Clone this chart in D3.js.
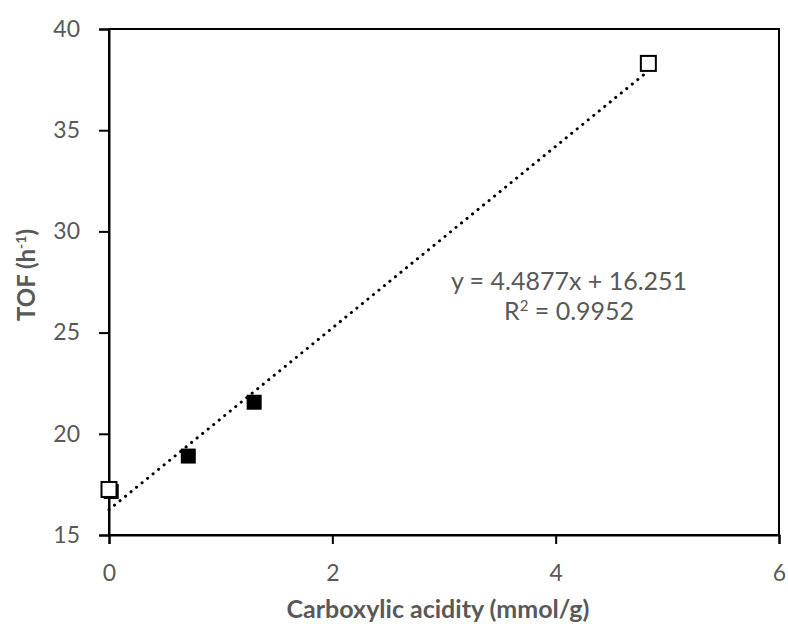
<!DOCTYPE html>
<html>
<head>
<meta charset="utf-8">
<script src="https://cdn.jsdelivr.net/npm/d3@7"></script>
<style>
  html, body { margin: 0; padding: 0; background: #fff; }
  svg { display: block; }
  text { font-family: Lato, "Open Sans", sans-serif; fill: #595959; }
</style>
</head>
<body>
<svg id="chart" width="788" height="624"></svg>
<script>
// Catalyst series: open markers (reference samples) and filled markers
const openX = [0, 4.83];
const openY = [17.25, 38.3];
const filledX = [0.02, 0.71, 1.30];
const filledY = [17.15, 18.9, 21.56];

// Linear fit reported on the chart
const slope = 4.4877;
const intercept = 16.251;
const rSquared = 0.9952;
const fitRange = [0, 4.83];

const xTicks = [0, 2, 4, 6];
const yTicks = [15, 20, 25, 30, 35, 40];

const svg = d3.select("#chart");
const plot = { left: 109, right: 779, top: 29, bottom: 535 };

const x = d3.scaleLinear().domain([0, 6]).range([plot.left, plot.right]);
const y = d3.scaleLinear().domain([15, 40]).range([plot.bottom, plot.top]);

// Frame
svg.append("rect")
  .attr("x", plot.left).attr("y", plot.top)
  .attr("width", plot.right - plot.left).attr("height", plot.bottom - plot.top)
  .attr("fill", "none").attr("stroke", "#000").attr("stroke-width", 2);

// Axes
const xAxis = svg.append("g")
  .attr("transform", `translate(0,${plot.bottom})`)
  .call(d3.axisBottom(x).tickValues(xTicks).tickSize(9).tickPadding(21).tickFormat(d3.format("d")));
const yAxis = svg.append("g")
  .attr("transform", `translate(${plot.left},0)`)
  .call(d3.axisLeft(y).tickValues(yTicks).tickSize(10).tickPadding(19).tickFormat(d3.format("d")));

[xAxis, yAxis].forEach(g => {
  g.select(".domain").attr("stroke", "#000").attr("stroke-width", 2);
  g.selectAll(".tick line").attr("stroke", "#000").attr("stroke-width", 2);
  g.selectAll(".tick text")
    .style("font-size", "23px")
    .style("font-family", "Lato, 'Open Sans', sans-serif")
    .attr("fill", "#595959");
});

// Trendline (dotted)
svg.append("line")
  .attr("x1", x(fitRange[0])).attr("y1", y(slope * fitRange[0] + intercept))
  .attr("x2", x(fitRange[1])).attr("y2", y(slope * fitRange[1] + intercept))
  .attr("stroke", "#000").attr("stroke-width", 3)
  .attr("stroke-linecap", "round")
  .attr("stroke-dasharray", "0.1 7");

const size = 15;

// Filled markers
svg.append("g").selectAll("rect")
  .data(filledX.map((v, i) => [v, filledY[i]]))
  .join("rect")
  .attr("x", d => x(d[0]) - size / 2)
  .attr("y", d => y(d[1]) - size / 2)
  .attr("width", size).attr("height", size)
  .attr("fill", "#000");

// Open markers
svg.append("g").selectAll("rect")
  .data(openX.map((v, i) => [v, openY[i]]))
  .join("rect")
  .attr("x", d => x(d[0]) - size / 2)
  .attr("y", d => y(d[1]) - size / 2)
  .attr("width", size).attr("height", size)
  .attr("fill", "#fff").attr("stroke", "#000").attr("stroke-width", 2);

// Fit equation
svg.append("text")
  .attr("x", 569).attr("y", 290)
  .attr("text-anchor", "middle")
  .style("font-size", "25px")
  .text(`y = ${slope}x + ${intercept}`);
const r2 = svg.append("text")
  .attr("x", 569).attr("y", 320)
  .attr("text-anchor", "middle")
  .style("font-size", "25px");
r2.append("tspan").text("R");
r2.append("tspan").attr("dy", -9).style("font-size", "15px").text("2");
r2.append("tspan").attr("dy", 9).text(` = ${rSquared}`);

// Axis titles
svg.append("text")
  .attr("x", 438).attr("y", 618)
  .attr("text-anchor", "middle")
  .style("font-size", "25px").style("font-weight", "bold")
  .text("Carboxylic acidity (mmol/g)");

const yt = svg.append("text")
  .attr("transform", `translate(35,275) rotate(-90)`)
  .attr("text-anchor", "middle")
  .style("font-size", "24px").style("font-weight", "bold");
yt.append("tspan").text("TOF (h");
yt.append("tspan").attr("dy", -9).style("font-size", "14px").text("-1");
yt.append("tspan").attr("dy", 9).text(")");
</script>
</body>
</html>
